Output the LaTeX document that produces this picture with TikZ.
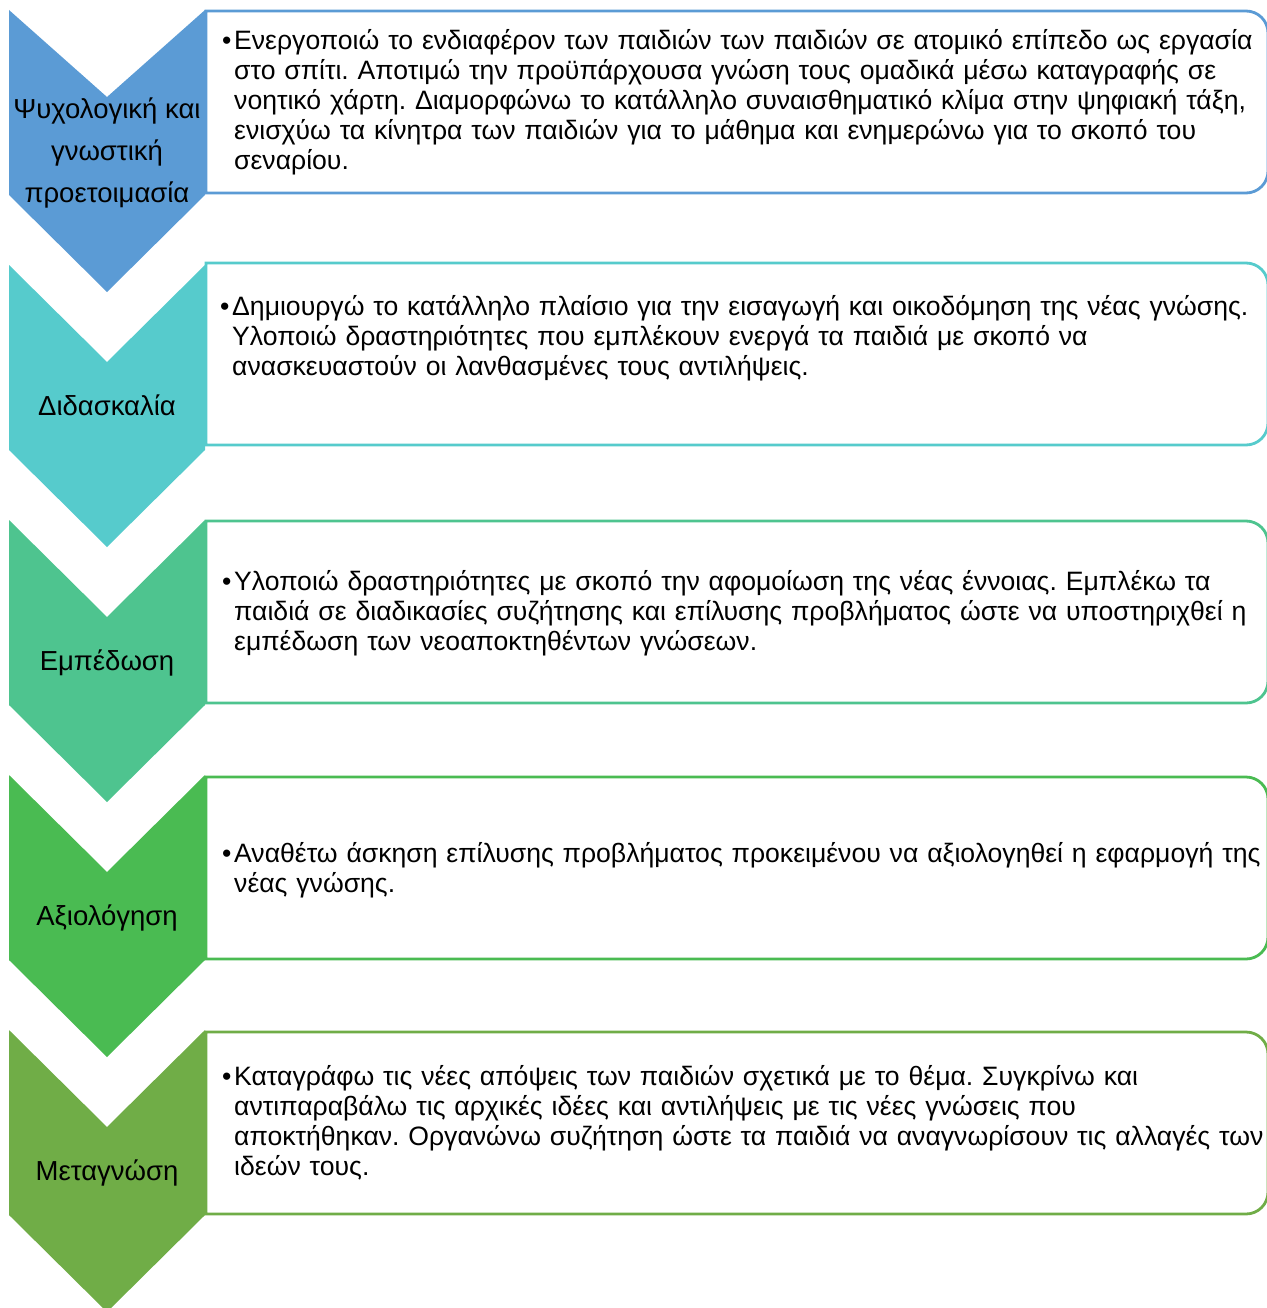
\documentclass[tikz,border=0pt]{standalone}
\usepackage{fontspec}
\setmainfont{Liberation Sans}
\newfontfamily\bodyfont{Liberation Sans}
\definecolor{chevA}{RGB}{91,155,213}
\definecolor{chevB}{RGB}{86,203,204}
\definecolor{chevC}{RGB}{78,196,143}
\definecolor{chevD}{RGB}{74,187,82}
\definecolor{chevE}{RGB}{112,173,71}
\newcommand{\bul}{\hspace*{-12pt}\makebox[12pt][l]{•}}

\begin{document}
\begin{tikzpicture}[x=1pt, y=-1pt,
  lab/.style={align=center, inner sep=0pt, font=\fontsize{27.5}{42}\selectfont},
  txt/.style={anchor=base west, text width=1030pt, align=left, inner sep=0pt,
              font=\bodyfont\fontsize{26.6}{30}\selectfont\frenchspacing},
  frame/.style={line width=2.8pt, fill=white}]
\useasboundingbox (0,0) rectangle (1266,1308);
\foreach \t/\n/\c in {10/97/chevA, 265/362/chevB, 520/617/chevC,
                      775/872/chevD, 1030/1127/chevE}
  \fill[\c] (9,\t) -- (107,\n) -- (205,\t) -- (205,\t+185)
    -- (107,\t+282) -- (9,\t+185) -- cycle;
\foreach \t/\c in {11/chevA, 263/chevB, 521/chevC, 777/chevD, 1032/chevE}
  \draw[frame, draw=\c] (206,\t+182) -- (206,\t) -- (1200,\t)
    [rounded corners=22pt] -- (1268,\t) -- (1268,\t+182) -- (1200,\t+182)
    [sharp corners] -- (206,\t+182) -- cycle;
\node[lab] (lab1) at (107,152.5) {Ψυχολογική και\\γνωστική\\προετοιμασία};
\node[lab, anchor=base] (lab2) at (107,415) {Διδασκαλία};
\node[lab, anchor=base] (lab3) at (107,670) {Εμπέδωση};
\node[lab, anchor=base] (lab4) at (107,925) {Αξιολόγηση};
\node[lab, anchor=base] (lab5) at (107,1180) {Μεταγνώση};
\node[txt] (txt1) at (234,50) {\bul Ενεργοποιώ το ενδιαφέρον των παιδιών των παιδιών σε ατομικό επίπεδο ως εργασία\newline
  στο σπίτι. Αποτιμώ την προϋπάρχουσα γνώση τους ομαδικά μέσω καταγραφής σε\newline
  νοητικό χάρτη. Διαμορφώνω το κατάλληλο συναισθηματικό κλίμα στην ψηφιακή τάξη,\newline
  ενισχύω τα κίνητρα των παιδιών για το μάθημα και ενημερώνω για το σκοπό του\newline
  σεναρίου.};
\node[txt] (txt2) at (232,315) {\bul Δημιουργώ το κατάλληλο πλαίσιο για την εισαγωγή και οικοδόμηση της νέας γνώσης.\newline
  Υλοποιώ δραστηριότητες που εμπλέκουν ενεργά τα παιδιά με σκοπό να\newline
  ανασκευαστούν οι λανθασμένες τους αντιλήψεις.};
\node[txt] (txt3) at (234,590) {\bul Υλοποιώ δραστηριότητες με σκοπό την αφομοίωση της νέας έννοιας. Εμπλέκω τα\newline
  παιδιά σε διαδικασίες συζήτησης και επίλυσης προβλήματος ώστε να υποστηριχθεί η\newline
  εμπέδωση των νεοαποκτηθέντων γνώσεων.};
\node[txt] (txt4) at (234,862) {\bul Αναθέτω άσκηση επίλυσης προβλήματος προκειμένου να αξιολογηθεί η εφαρμογή της\newline
  νέας γνώσης.};
\node[txt] (txt5) at (234,1085) {\bul Καταγράφω τις νέες απόψεις των παιδιών σχετικά με το θέμα. Συγκρίνω και\newline
  αντιπαραβάλω τις αρχικές ιδέες και αντιλήψεις με τις νέες γνώσεις που\newline
  αποκτήθηκαν. Οργανώνω συζήτηση ώστε τα παιδιά να αναγνωρίσουν τις αλλαγές των\newline
  ιδεών τους.};
\end{tikzpicture}
\end{document}
